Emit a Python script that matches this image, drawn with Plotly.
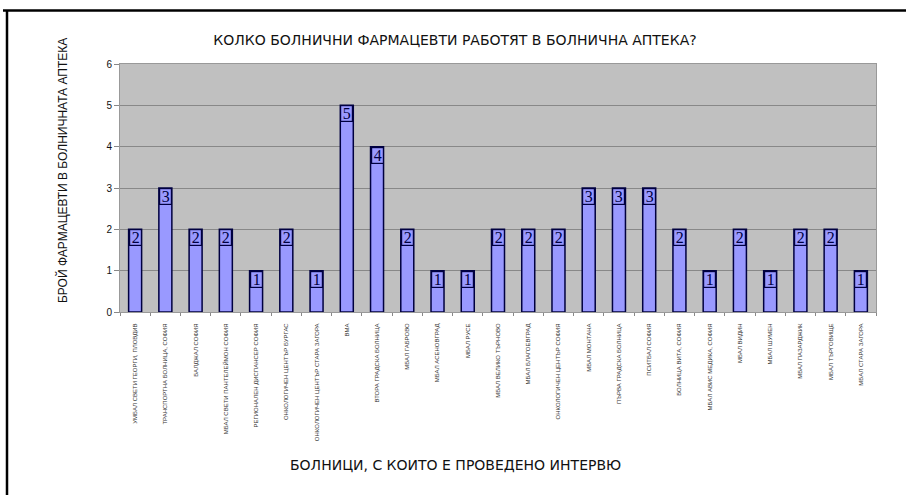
import plotly.graph_objects as go

categories = [
    "УМБАЛ СВЕТИ ГЕОРГИ, ПЛОВДИВ",
    "ТРАНСПОРТНА БОЛНИЦА, СОФИЯ",
    "БАЛДЖАЛ СОФИЯ",
    "МБАЛ СВЕТИ ПАНТЕЛЕЙМОН СОФИЯ",
    "РЕГИОНАЛЕН ДИСПАНСЕР СОФИЯ",
    "ОНКОЛОГИЧЕН ЦЕНТЪР БУРГАС",
    "ОНКОЛОГИЧЕН ЦЕНТЪР СТАРА ЗАГОРА",
    "ВМА",
    "ВТОРА ГРАДСКА БОЛНИЦА",
    "МБАЛ ГАБРОВО",
    "МБАЛ АСЕНОВГРАД",
    "МБАЛ РУСЕ",
    "МБАЛ ВЕЛИКО ТЪРНОВО",
    "МБАЛ БЛАГОЕВГРАД",
    "ОНКОЛОГИЧЕН ЦЕНТЪР СОФИЯ",
    "МБАЛ МОНТАНА",
    "ПЪРВА ГРАДСКА БОЛНИЦА",
    "ПСИТБАЛ СОФИЯ",
    "БОЛНИЦА ВИТА, СОФИЯ",
    "МБАЛ АВИС МЕДИКА, СОФИЯ",
    "МБАЛ ВИДИН",
    "МБАЛ ШУМЕН",
    "МБАЛ ПАЗАРДЖИК",
    "МБАЛ ТЪРГОВИЩЕ",
    "МБАЛ СТАРА ЗАГОРА",
]
values = [2, 3, 2, 2, 1, 2, 1, 5, 4, 2, 1, 1, 2, 2, 2, 3, 3, 3, 2, 1, 2, 1, 2, 2, 1]
y_ticks = [0, 1, 2, 3, 4, 5, 6]

title_text = "КОЛКО БОЛНИЧНИ ФАРМАЦЕВТИ РАБОТЯТ В БОЛНИЧНА АПТЕКА?"
x_title = "БОЛНИЦИ, С КОИТО Е ПРОВЕДЕНО ИНТЕРВЮ"
y_title = "БРОЙ ФАРМАЦЕВТИ В БОЛНИЧНАТА АПТЕКА"

W, H = 906, 495
L, R, T, B = 120, 30, 64, 183
pw, ph = W - L - R, H - T - B

def px_x(p):
    return (p - L) / pw

def px_y(p):
    return (H - B - p) / ph

bar_fill = "#9999FF"
bar_line = "#000040"

fig = go.Figure()
fig.add_trace(go.Bar(
    x=categories, y=values,
    marker=dict(color=bar_fill, line=dict(color=bar_line, width=1.5)),
    hoverinfo="x+y",
))

annotations = []
for c, v in zip(categories, values):
    annotations.append(dict(
        x=c, y=v, xref="x", yref="y", text=str(v), showarrow=False,
        yanchor="top", xanchor="center", width=11, height=15,
        font=dict(family="Liberation Serif, DejaVu Serif, serif", size=16, color="#000040"),
        bgcolor=bar_fill, bordercolor=bar_line, borderwidth=1.2, borderpad=0,
    ))

annotations.append(dict(
    x=px_x(455), y=px_y(465), xref="paper", yref="paper", text=x_title,
    showarrow=False, xanchor="center", yanchor="middle",
    font=dict(family="DejaVu Sans, Liberation Sans, sans-serif", size=14, color="#111111"),
))
annotations.append(dict(
    x=px_x(62), y=px_y(171), xref="paper", yref="paper", text=y_title,
    showarrow=False, xanchor="center", yanchor="middle", textangle=-90,
    font=dict(family="Liberation Sans, Arial, sans-serif", size=12, color="#111111"),
))

shapes = [
    dict(type="line", xref="paper", yref="paper", x0=px_x(3), x1=px_x(910),
         y0=px_y(10.5), y1=px_y(10.5), line=dict(color="black", width=2.5)),
    dict(type="line", xref="paper", yref="paper", x0=px_x(7), x1=px_x(7),
         y0=px_y(10), y1=px_y(500), line=dict(color="black", width=2.5)),
]

fig.update_layout(
    width=W, height=H,
    margin=dict(l=L, r=R, t=T, b=B, autoexpand=False),
    paper_bgcolor="white",
    plot_bgcolor="#C0C0C0",
    bargap=0.57,
    showlegend=False,
    title=dict(text=title_text, x=455 / W, xanchor="center", y=1 - 40 / H, yanchor="middle",
               font=dict(family="DejaVu Sans, Liberation Sans, sans-serif", size=14, color="#111111")),
    annotations=annotations,
    shapes=shapes,
)

fig.update_xaxes(
    type="category", tickangle=-90,
    tickfont=dict(family="Liberation Sans, Arial, sans-serif", size=6, color="#333333"),
    ticks="outside", tickson="boundaries", ticklen=3, tickcolor="#888888",
    ticklabelstandoff=8,
    showline=True, linecolor="#999999", linewidth=1, mirror=True,
    showgrid=False,
)
fig.update_yaxes(
    range=[0, 6], tickvals=y_ticks, ticktext=[str(t) for t in y_ticks],
    tickfont=dict(family="Liberation Sans, Arial, sans-serif", size=10, color="#111111"),
    ticks="outside", ticklen=5, tickcolor="#888888",
    showline=True, linecolor="#999999", linewidth=1, mirror=True,
    showgrid=True, gridcolor="#888888", gridwidth=1,
    zeroline=False,
)

fig.write_html("out.html", config={"displayModeBar": False},
               post_script="document.body.style.margin='0';document.body.style.overflow='hidden';")
